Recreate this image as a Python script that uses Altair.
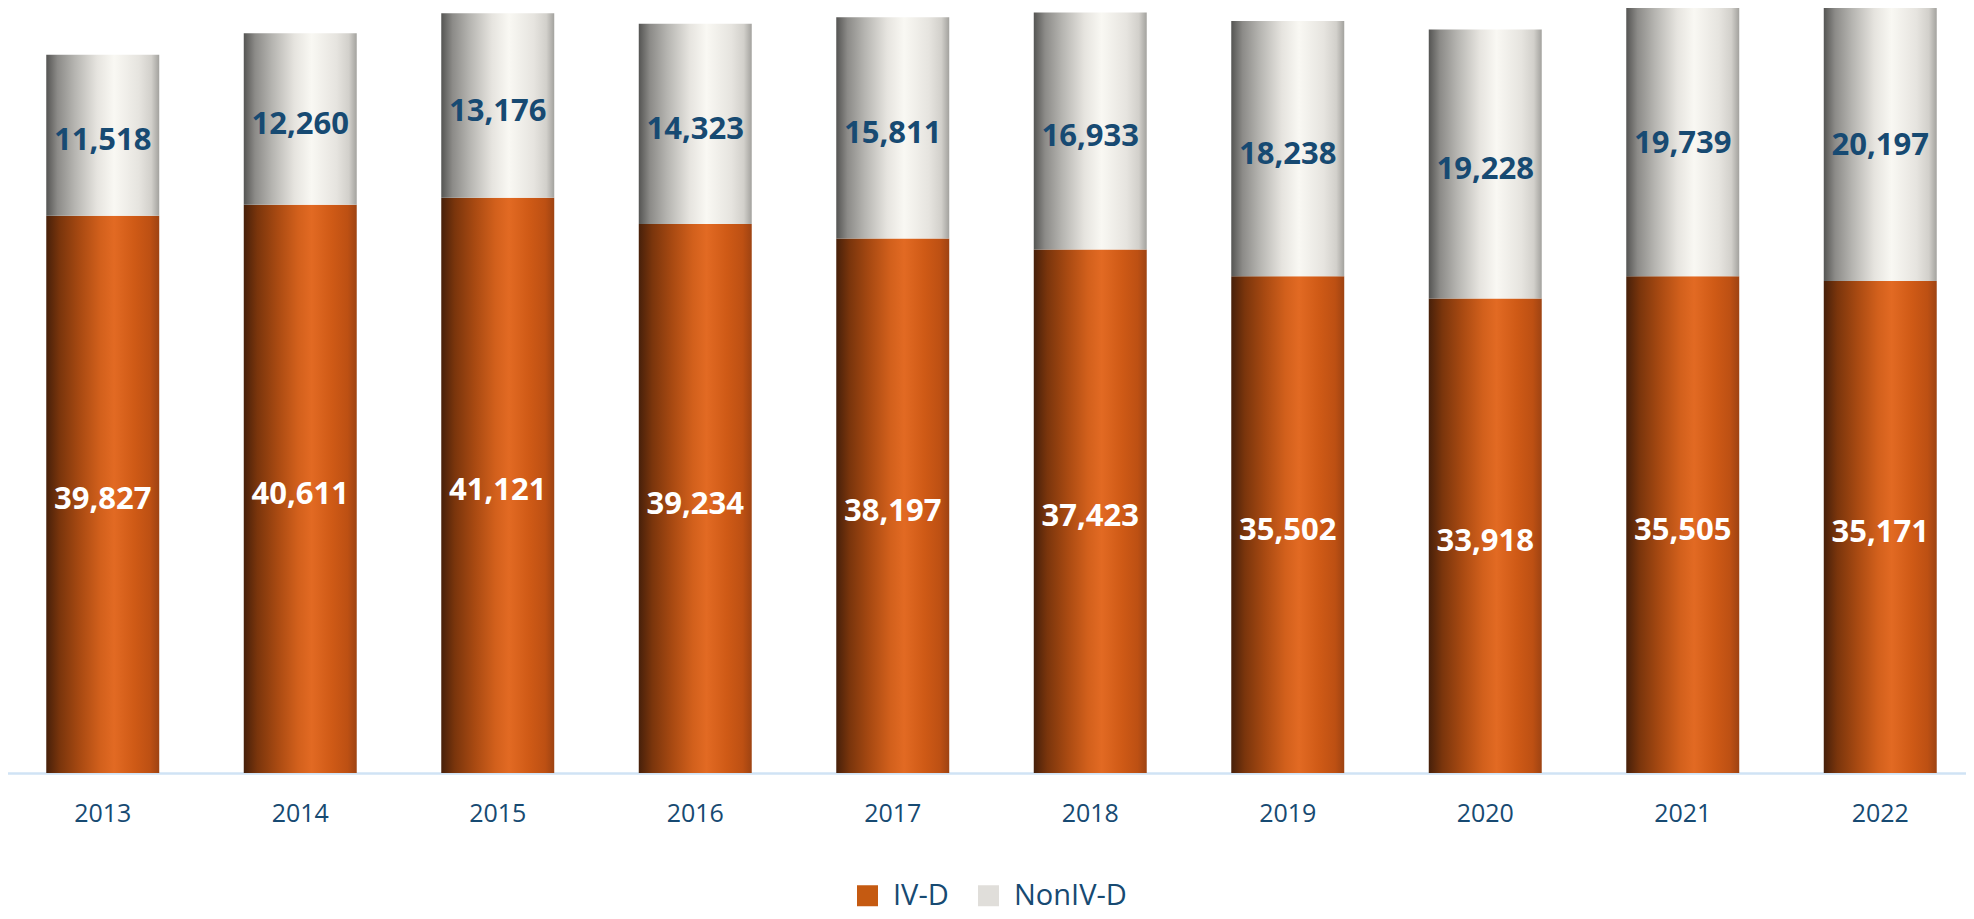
import altair as alt
import pandas as pd

years = ["2013", "2014", "2015", "2016", "2017", "2018", "2019", "2020", "2021", "2022"]
ivd = [39827, 40611, 41121, 39234, 38197, 37423, 35502, 33918, 35505, 35171]
nonivd = [11518, 12260, 13176, 14323, 15811, 16933, 18238, 19228, 19739, 20197]
series = ["IV-D", "NonIV-D"]
legend_colors = ["#c55a11", "#e0deda"]

df = pd.DataFrame({"year": years, "IV-D": ivd, "NonIV-D": nonivd})

TXT = "#174a72"
FONT = "Open Sans"

orange = alt.Gradient(
    gradient="linear", x1=0, x2=1, y1=0, y2=0,
    stops=[
        alt.GradientStop(color="#47200a", offset=0),
        alt.GradientStop(color="#7a350c", offset=0.12),
        alt.GradientStop(color="#a94a12", offset=0.3),
        alt.GradientStop(color="#d2601c", offset=0.48),
        alt.GradientStop(color="#e26a23", offset=0.6),
        alt.GradientStop(color="#cf5a16", offset=0.78),
        alt.GradientStop(color="#bd5013", offset=0.92),
        alt.GradientStop(color="#9e4312", offset=1),
    ],
)
gray = alt.Gradient(
    gradient="linear", x1=0, x2=1, y1=0, y2=0,
    stops=[
        alt.GradientStop(color="#555553", offset=0),
        alt.GradientStop(color="#8c8b88", offset=0.1),
        alt.GradientStop(color="#b5b4b0", offset=0.25),
        alt.GradientStop(color="#e6e4df", offset=0.45),
        alt.GradientStop(color="#f9f8f3", offset=0.6),
        alt.GradientStop(color="#e6e4df", offset=0.82),
        alt.GradientStop(color="#d2d0cb", offset=0.93),
        alt.GradientStop(color="#a3a29e", offset=1),
    ],
)

xenc = alt.X(
    "year:O",
    sort=years,
    scale=alt.Scale(range=[-4, 1971], paddingInner=0.428, paddingOuter=0.214),
    axis=alt.Axis(
        title=None, labelAngle=0, ticks=False, labelFontSize=25, labelFont=FONT,
        labelColor=TXT, labelPadding=28, domainColor="#d0e3f5", domainWidth=2.5,
        grid=False,
    ),
)
yscale = alt.Scale(domain=[0, 54678], nice=False, zero=True)
yaxis = None

base = alt.Chart(df).transform_calculate(
    total="datum['IV-D'] + datum['NonIV-D']",
    mid1="datum['IV-D'] / 2",
    mid2="datum['IV-D'] + datum['NonIV-D'] / 2",
)

bar1 = base.mark_bar(color=orange).encode(
    x=xenc, y=alt.Y("IV-D:Q", scale=yscale, axis=yaxis)
)
bar2 = base.mark_bar(color=gray).encode(
    x=xenc, y=alt.Y("IV-D:Q", scale=yscale, axis=yaxis), y2="total:Q"
)
txt1 = base.mark_text(font=FONT, fontSize=31, fontWeight="bold", color="white", baseline="middle", dy=6).encode(
    x=xenc, y=alt.Y("mid1:Q", scale=yscale, axis=yaxis), text=alt.Text("IV-D:Q", format=",")
)
txt2 = base.mark_text(font=FONT, fontSize=31, fontWeight="bold", color=TXT, baseline="middle", dy=6).encode(
    x=xenc, y=alt.Y("mid2:Q", scale=yscale, axis=yaxis), text=alt.Text("NonIV-D:Q", format=",")
)
leg = alt.Chart(df).transform_fold(series, as_=["series", "value"]).mark_square(opacity=0, size=1).encode(
    x=xenc,
    y=alt.Y("value:Q", scale=yscale, axis=yaxis),
    color=alt.Color(
        "series:N",
        scale=alt.Scale(domain=series, range=legend_colors),
        legend=alt.Legend(
            title=None, orient="none", direction="horizontal", legendX=845, legendY=873,
            symbolType="square", symbolSize=441, symbolOpacity=1, symbolStrokeWidth=0,
            labelFontSize=29, labelFont=FONT, labelColor=TXT, labelOffset=11,
            columnPadding=25,
        ),
    ),
)

chart = alt.layer(bar1, bar2, txt1, txt2, leg).properties(
    width=1958, height=765,
    autosize=alt.AutoSizeParams(type="none"),
    padding={"left": 0, "top": 0, "right": 0, "bottom": 138},
).configure_view(stroke=None)

chart.save("out.html", embed_options={"renderer": "svg", "actions": False})
